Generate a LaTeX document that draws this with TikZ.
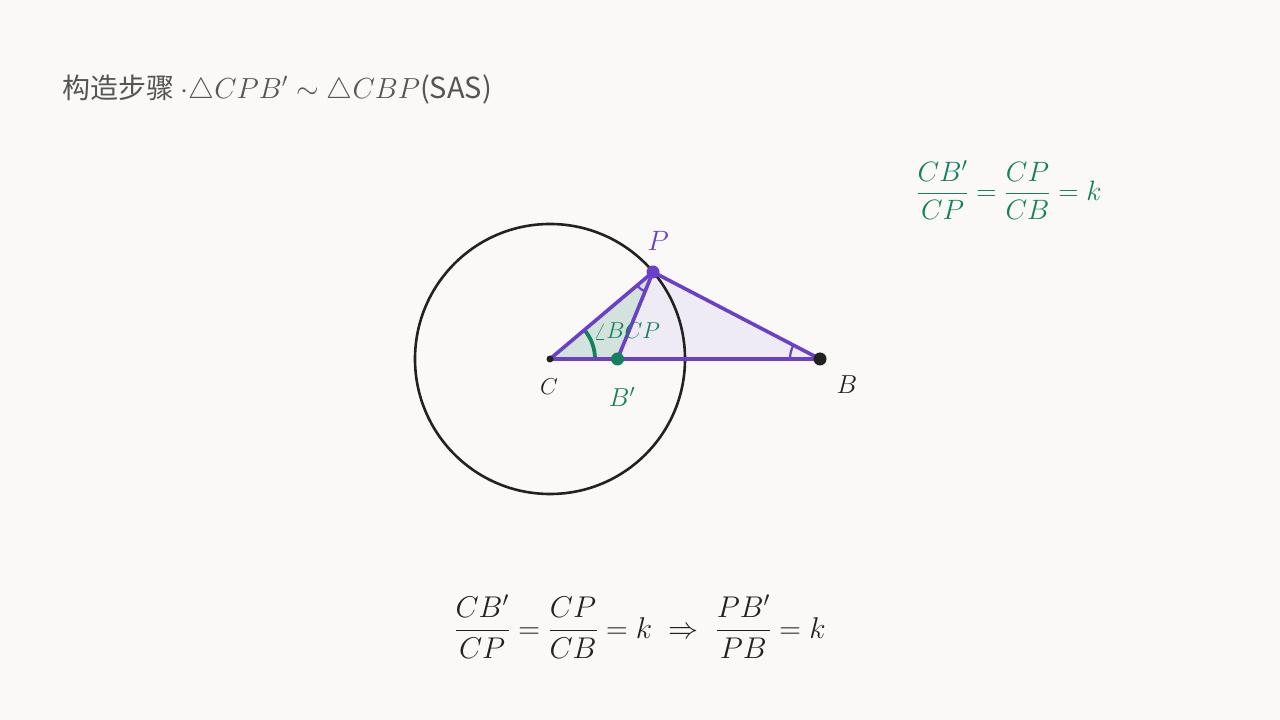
\RequirePackage{fix-cm}
\documentclass[tikz,border=0pt]{standalone}
\usepackage{fontspec}
\usepackage{amsmath}
\usetikzlibrary{angles}
\newfontfamily\cjk{Noto Sans CJK SC}
\definecolor{bg}{HTML}{FAF9F7}
\definecolor{vio}{HTML}{6B40C8}
\definecolor{grn}{HTML}{14805E}
\definecolor{lav}{HTML}{EFEBF5}
\definecolor{teal}{HTML}{D3E2DC}
\definecolor{ink}{HTML}{222222}
\definecolor{gry}{HTML}{555555}
\tikzset{
  seg/.style={draw=vio, line width=3.6pt, line cap=round, line join=round},
  dot/.style={circle, inner sep=0pt, minimum size=#1},
  lbl/.style={inner sep=0pt, font=\fontsize{28}{32}\selectfont},
}
\begin{document}
\begin{tikzpicture}[x=1pt,y=1pt]
\useasboundingbox[fill=bg] (0,0) rectangle (1280,720);
\coordinate (C) at (550,361);
\coordinate (B) at (820,361);
\coordinate (P) at (653,448);
\coordinate (Bp) at (617.5,361);
% fills
\fill[lav] (C) -- (P) -- (B) -- cycle;
\fill[teal] (C) -- (P) -- (Bp) -- cycle;
% circle
\draw[ink, line width=2.6pt] (C) circle (135);
% angle marks
\pic[draw=grn, line width=3.8pt, angle radius=45] {angle = B--C--P};
\pic[draw=vio, line width=2.2pt, angle radius=21] {angle = C--P--Bp};
\pic[draw=vio, line width=2.2pt, angle radius=30] {angle = P--B--C};
% triangle sides
\draw[seg] (C) -- (P) -- (B) -- cycle;
\draw[seg] (P) -- (Bp);
% points
\node[dot=7pt, fill=ink] (nC) at (C) {};
\node[dot=13pt, fill=ink] (nB) at (B) {};
\node[dot=13pt, fill=vio] (nP) at (P) {};
\node[dot=13pt, fill=grn] (nBp) at (Bp) {};
% labels
\node[lbl, text=vio] (lP) at (658,479) {$P$};
\node[lbl, text=ink, font=\fontsize{23}{26}\selectfont] (lC) at (549,333) {$C$};
\node[lbl, text=grn, font=\fontsize{26}{30}\selectfont] (lBp) at (622,323) {$B'$};
\node[lbl, text=ink, font=\fontsize{26}{30}\selectfont] (lB) at (847,335) {$B$};
\node[lbl, text=grn, font=\fontsize{23}{26}\selectfont] (lang) at (627,389) {$\angle BCP$};
% title
\node[anchor=west, inner sep=0pt, text=gry] (title) at (62,631)
  {{\cjk\fontsize{28}{32}\selectfont 构造步骤 }{\fontsize{29}{33}\selectfont$\cdot\triangle CPB'\sim\triangle CBP$}{\cjk\fontsize{29}{33}\selectfont (SAS)}};
% right formula
\node[inner sep=0pt, text=grn, font=\fontsize{28}{32}\selectfont] (eq1) at (1009,530)
  {$\dfrac{CB'}{CP}=\dfrac{CP}{CB}=k$};
% bottom formula
\node[inner sep=0pt, text=ink, font=\fontsize{30}{34}\selectfont] (eq2) at (640,93)
  {$\dfrac{CB'}{CP}=\dfrac{CP}{CB}=k\;\Rightarrow\;\dfrac{PB'}{PB}=k$};
\end{tikzpicture}
\end{document}
